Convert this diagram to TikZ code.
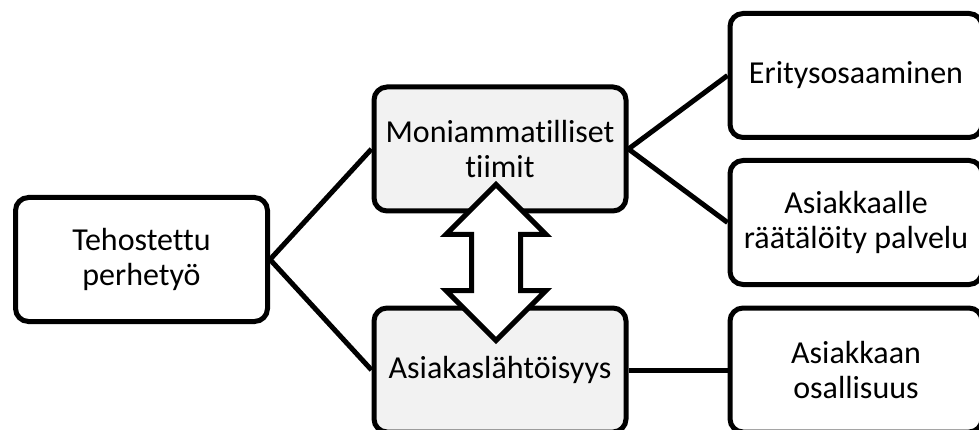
\documentclass[tikz,border=0pt]{standalone}
\usepackage{fontspec}
\setmainfont{Carlito}[RawFeature={-liga}]
\usetikzlibrary{calc}
\definecolor{boxgray}{HTML}{F2F2F2}
\begin{document}
\begin{tikzpicture}[x=1pt,y=-1pt,
  box/.style={draw=black, line width=5pt, rounded corners=13pt, fill=white,
    minimum width=252pt, minimum height=124pt, align=center, inner sep=0pt,
    font=\fontsize{32}{35}\selectfont},
  graybox/.style={box, fill=boxgray},
  link/.style={draw=black, line width=5pt},
  blockarrow/.style={draw=black, fill=white, line width=5pt, line join=miter}]
\useasboundingbox (0,0) rectangle (979,430);
\clip (0,0) rectangle (979,430);
\node[box] (L) at (141.5,259.5) {Tehostettu\\perhetyö};
\node[graybox] (MT) at (500,149) {Moniammatilliset\\tiimit};
\node[graybox] (MB) at (500,370) {Asiakaslähtöisyys};
\node[box] (R1) at (856,75.5) {Eritysosaaminen};
\node[box] (R2) at (856,222.5) {Asiakkaalle\\räätälöity palvelu};
\node[box] (R3) at (856,370) {Asiakkaan\\osallisuus};
\draw[link] (L.east) -- (MT.west);
\draw[link] (L.east) -- (MB.west);
\draw[link] (MT.east) -- (R1.west);
\draw[link] (MT.east) -- (R2.west);
\draw[link] (MB.east) -- (R3.west);
\coordinate (DA) at (496,262.5);
\draw[blockarrow] ($(DA)+(0,-78)$) -- ++(50,50) -- ++(-25.5,0) -- ++(0,56) -- ++(25.5,0)
  -- ++(-50,50) -- ++(-50,-50) -- ++(25.5,0) -- ++(0,-56) -- ++(-25.5,0) -- cycle;
\end{tikzpicture}
\end{document}
